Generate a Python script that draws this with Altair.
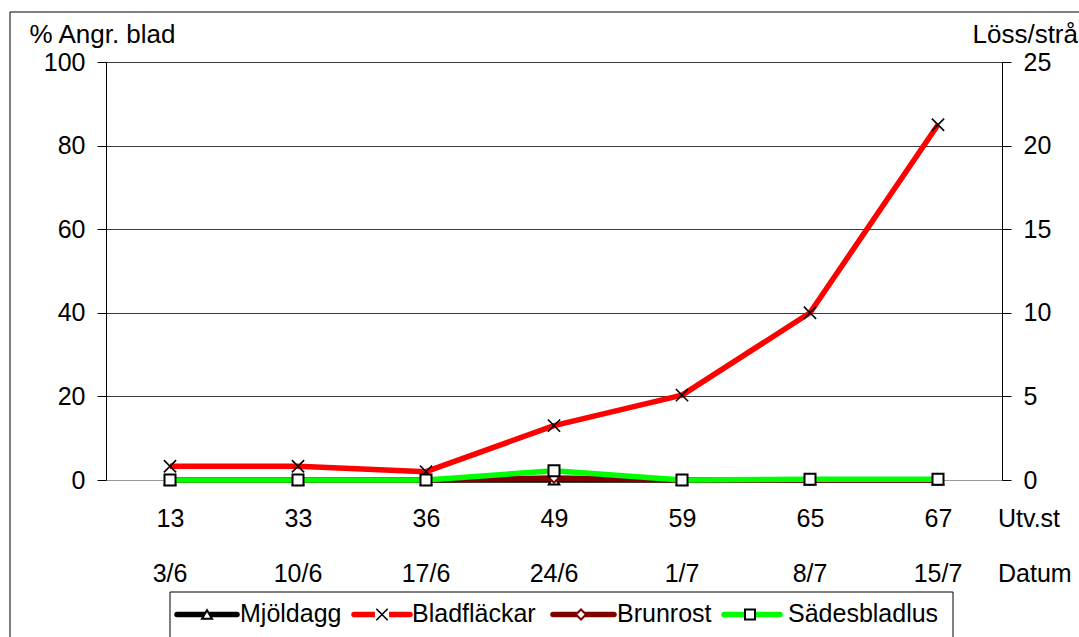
import altair as alt
import pandas as pd

# Development stage (Utv.st) and date of each assessment
utv_st = ["13", "33", "36", "49", "59", "65", "67"]
datum = ["3/6", "10/6", "17/6", "24/6", "1/7", "8/7", "15/7"]

# % attacked leaves (left axis)
mjoldagg = [0, 0, 0, 0, 0, 0, 0]
bladflackar = [3.3, 3.3, 2.0, 13.0, 20.3, 40.0, 85.0]
brunrost = [0, 0, 0, 0.5, 0, 0, 0]
# aphids per stem (right axis)
sadesbladlus = [0, 0, 0, 0.55, 0, 0.05, 0.05]

left_ticks = [0, 20, 40, 60, 80, 100]
right_ticks = [0, 5, 10, 15, 20, 25]

series_names = ["Mjöldagg", "Bladfläckar", "Brunrost", "Sädesbladlus"]
line_colors = ["#000000", "#ff0000", "#800000", "#00ff00"]

FONT = "Liberation Sans"
FS = 25
TITLE_FS = 26
W, H = 896, 418
X_PATH = "M-1,-1L1,1M-1,1L1,-1"


def frame(values):
    return pd.DataFrame({"utv": utv_st, "datum": datum, "v": values})


one = pd.DataFrame({"k": [0]})

x_enc = alt.X(
    "utv:N",
    sort=utv_st,
    scale=alt.Scale(type="point", padding=0.5),
    axis=alt.Axis(
        title=None, labelAngle=0, labelFont=FONT, labelFontSize=FS,
        labelColor="black", labelBaseline="top", labelPadding=26,
        ticks=False, tickSize=0, domainColor="#999999", domainWidth=1,
        grid=False,
    ),
)

y_left = alt.Y(
    "v:Q",
    scale=alt.Scale(domain=[0, 100], nice=False),
    axis=alt.Axis(
        values=left_ticks, title="% Angr. blad", titleAngle=0,
        titleAlign="left", titleBaseline="top", titleX=-77, titleY=-41,
        titleFont=FONT, titleFontSize=TITLE_FS, titleFontWeight="normal",
        titleColor="black", labelFont=FONT, labelFontSize=FS,
        labelColor="black", labelPadding=12, tickSize=9, tickColor="black",
        domainColor="black", grid=True, gridWidth=1,
        gridColor={"condition": {"test": "datum.value === 0", "value": "#999999"},
                   "value": "#3a3a3a"},
    ),
)

y_right = alt.Y(
    "v:Q",
    scale=alt.Scale(domain=[0, 25], nice=False),
    axis=alt.Axis(
        orient="right", values=right_ticks, title="Löss/strå", titleAngle=0,
        titleAlign="left", titleBaseline="top", titleX=-30, titleY=-41,
        titleFont=FONT, titleFontSize=TITLE_FS, titleFontWeight="normal",
        titleColor="black", labelFont=FONT, labelFontSize=FS,
        labelColor="black", labelPadding=12, tickSize=9, tickColor="black",
        domainColor="black", grid=False,
    ),
)


def line(values, color, y):
    return alt.Chart(frame(values)).mark_line(
        color=color, strokeWidth=5.5, strokeJoin="round"
    ).encode(x=x_enc, y=y)


def points(values, y, shape, stroke, fill, size, sw=2):
    return alt.Chart(frame(values)).mark_point(
        shape=shape, stroke=stroke, fill=fill, filled=fill != "transparent",
        fillOpacity=1, size=size, strokeWidth=sw, opacity=1,
    ).encode(x=x_enc, y=y)


# outer frame of the chart
border = alt.Chart(one).mark_rect(
    fill="transparent", stroke="black", strokeWidth=1
).encode(x=alt.value(-96), x2=alt.value(1000), y=alt.value(-50), y2=alt.value(620))

# second row of category labels: dates
dates = alt.Chart(frame(mjoldagg)).mark_text(
    font=FONT, fontSize=FS, color="black", baseline="top", align="center"
).encode(x=x_enc, y=alt.value(499.5), text="datum:N")

row_titles = alt.Chart(pd.DataFrame({"t": ["Utv.st", "Datum"], "yy": [444.5, 499.5]})).mark_text(
    font=FONT, fontSize=FS, color="black", baseline="top", align="left"
).encode(x=alt.value(892), y=alt.Y("yy:Q", scale=None), text="t:N")

left = alt.layer(
    border,
    line(mjoldagg, line_colors[0], y_left),
    points(mjoldagg, y_left, "triangle-up", "black", "white", 110),
    line(bladflackar, line_colors[1], y_left),
    points(bladflackar, y_left, X_PATH, "black", "transparent", 150, 1.6),
    line(brunrost, line_colors[2], y_left),
    points(brunrost, y_left, "diamond", line_colors[2], "white", 90),
    dates,
    row_titles,
)

right = alt.layer(
    line(sadesbladlus, line_colors[3], y_right),
    points(sadesbladlus, y_right, "square", "black", "white", 121),
)

# legend
leg_line_x0 = [71, 248, 447, 618]
leg_line_x1 = [131, 304, 508, 674]
leg_marker_x = [101, 276, 475, 644]
leg_text_x = [134, 306, 511, 682]
leg_shapes = ["triangle-up", X_PATH, "diamond", "square"]
leg_marker_stroke = ["black", "black", line_colors[2], "black"]
LEG_Y = 552.5

legend_layers = [
    alt.Chart(one).mark_rect(fill="white", stroke="black", strokeWidth=1).encode(
        x=alt.value(64), x2=alt.value(847), y=alt.value(530), y2=alt.value(600)
    )
]
for i, name in enumerate(series_names):
    legend_layers.append(
        alt.Chart(one).mark_rule(color=line_colors[i], strokeWidth=5.5, strokeCap="round").encode(
            x=alt.value(leg_line_x0[i]), x2=alt.value(leg_line_x1[i]), y=alt.value(LEG_Y)
        )
    )
    if leg_shapes[i] == X_PATH:
        legend_layers.append(
            alt.Chart(one).mark_point(shape="square", fill="white", filled=True,
                                      fillOpacity=1, opacity=1, size=200, strokeWidth=0).encode(
                x=alt.value(leg_marker_x[i]), y=alt.value(LEG_Y)
            )
        )
        legend_layers.append(
            alt.Chart(one).mark_point(shape=X_PATH, stroke="black", size=130,
                                      strokeWidth=1.6, opacity=1).encode(
                x=alt.value(leg_marker_x[i]), y=alt.value(LEG_Y)
            )
        )
    else:
        legend_layers.append(
            alt.Chart(one).mark_point(shape=leg_shapes[i], stroke=leg_marker_stroke[i], fill="white",
                                      filled=True, fillOpacity=1, opacity=1, size=100,
                                      strokeWidth=2).encode(
                x=alt.value(leg_marker_x[i]), y=alt.value(LEG_Y)
            )
        )
    legend_layers.append(
        alt.Chart(pd.DataFrame({"t": [name]})).mark_text(
            font=FONT, fontSize=FS, color="black", baseline="top", align="left"
        ).encode(x=alt.value(leg_text_x[i]), y=alt.value(539.5), text="t:N")
    )

chart = (
    alt.layer(left, right, *legend_layers)
    .resolve_scale(y="independent")
    .properties(
        width=W, height=H,
        padding={"left": 106, "top": 62, "right": 77, "bottom": 157},
        autosize=alt.AutoSizeParams(type="none"),
        background="white",
    )
    .configure_view(stroke=None)
    .configure(font=FONT)
)

chart.save("out.html", embed_options={"renderer": "svg", "actions": False})
